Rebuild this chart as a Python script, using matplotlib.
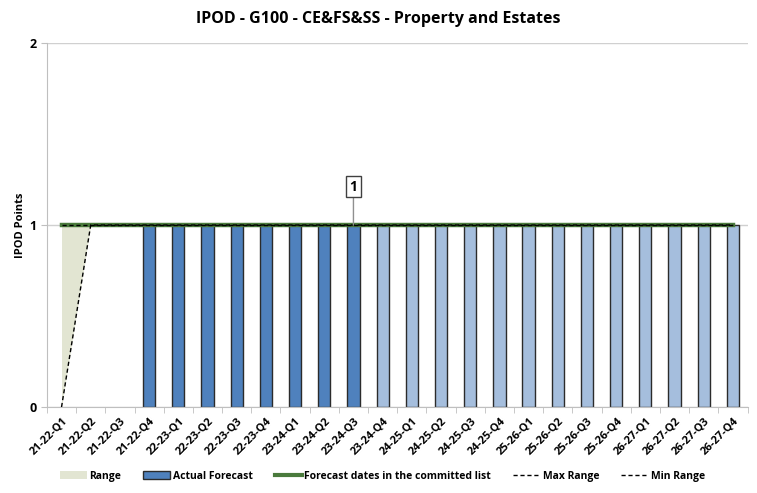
import matplotlib.pyplot as plt
import numpy as np
from matplotlib.patches import Patch
from matplotlib.lines import Line2D

plt.rcParams['font.family'] = ['Open Sans', 'DejaVu Sans']

quarters = ['21-22-Q1', '21-22-Q2', '21-22-Q3', '21-22-Q4',
            '22-23-Q1', '22-23-Q2', '22-23-Q3', '22-23-Q4',
            '23-24-Q1', '23-24-Q2', '23-24-Q3', '23-24-Q4',
            '24-25-Q1', '24-25-Q2', '24-25-Q3', '24-25-Q4',
            '25-26-Q1', '25-26-Q2', '25-26-Q3', '25-26-Q4',
            '26-27-Q1', '26-27-Q2', '26-27-Q3', '26-27-Q4']
# actual (up to 23-24-Q3) and forecast bars
actual = [0, 0, 0, 1, 1, 1, 1, 1, 1, 1, 1, 0, 0, 0, 0, 0, 0, 0, 0, 0, 0, 0, 0, 0]
forecast = [0, 0, 0, 0, 0, 0, 0, 0, 0, 0, 0, 1, 1, 1, 1, 1, 1, 1, 1, 1, 1, 1, 1, 1]
committed = [1] * 24
max_range = [1] * 24
min_range = [0, 1] + [1] * 22
label_idx = 10
label_text = '1'

x = np.arange(len(quarters))
actual = np.array(actual, dtype=float)
forecast = np.array(forecast, dtype=float)

fig = plt.figure(figsize=(7.57, 4.93), dpi=100)
ax = fig.add_axes([0.062, 0.1744, 0.9255, 0.7384])

# range area between min and max (only first two quarters shown)
ax.fill_between(x[:2], min_range[:2], max_range[:2], color='#E2E5D2', linewidth=0, zorder=1)

ma = actual > 0
mf = forecast > 0
ax.bar(x[ma], actual[ma], width=0.42, color='#4F81BD', edgecolor='#2B2B2B', linewidth=1, zorder=2)
ax.bar(x[mf], forecast[mf], width=0.42, color='#A5BEDD', edgecolor='#2B2B2B', linewidth=1, zorder=2)

ax.plot(x, committed, color='#4A7A3C', linewidth=3.2, zorder=3)
ax.plot(x, max_range, color='black', linewidth=1, linestyle=(0, (3, 2)), zorder=4)
ax.plot(x, min_range, color='black', linewidth=1, linestyle=(0, (3, 2)), zorder=4)

# data label with leader line
ax.annotate(label_text, xy=(x[label_idx], 1), xytext=(x[label_idx], 1.21),
            ha='center', va='center', fontsize=10, fontweight='bold',
            bbox=dict(boxstyle='square,pad=0.25', fc='white', ec='#404040', lw=1),
            arrowprops=dict(arrowstyle='-', color='#909090', lw=1,
                            shrinkA=0, shrinkB=0), zorder=5)

ax.set_xlim(-0.5, len(quarters) - 0.5)
ax.set_ylim(0, 2)
ax.set_yticks([0, 1, 2])
ax.set_yticklabels(['0', '1', '2'], fontsize=9, fontweight='bold')
ax.set_xticks(x)
ax.set_xticklabels(quarters, rotation=45, ha='right', rotation_mode='anchor',
                   fontsize=8, fontweight='bold')
ax.set_xticks(np.arange(-0.5, len(quarters)), minor=True)
ax.tick_params(axis='x', which='major', length=0, pad=6)
ax.tick_params(axis='x', which='minor', length=4, color='#BFBFBF')
ax.tick_params(axis='y', length=4, color='#BFBFBF')
ax.grid(axis='y', color='#D0D0D0', linewidth=1, zorder=0)
ax.set_axisbelow(True)
for s in ['top', 'right']:
    ax.spines[s].set_visible(False)
for s in ['left', 'bottom']:
    ax.spines[s].set_color('#BFBFBF')

ax.set_ylabel('IPOD Points', fontsize=8, fontweight='bold', labelpad=2)
fig.text(0.5, 0.962, 'IPOD - G100 - CE&FS&SS - Property and Estates', fontsize=11.5,
         fontweight='bold', ha='center', va='center')

handles = [Patch(facecolor='#E2E5D2', edgecolor='none', label='Range'),
           Patch(facecolor='#4F81BD', edgecolor='#2B2B2B', label='Actual Forecast'),
           Line2D([], [], color='#4A7A3C', lw=3, label='Forecast dates in the committed list'),
           Line2D([], [], color='black', lw=1, ls=(0, (3, 2)), label='Max Range'),
           Line2D([], [], color='black', lw=1, ls=(0, (3, 2)), label='Min Range')]
fig.legend(handles=handles, loc='center', bbox_to_anchor=(0.505, 0.034), ncol=5,
           frameon=False, prop={'size': 7.5, 'weight': 'bold'}, handlelength=2.6,
           handletextpad=0.25, columnspacing=2.1)

fig.savefig('out.png', dpi=100)
